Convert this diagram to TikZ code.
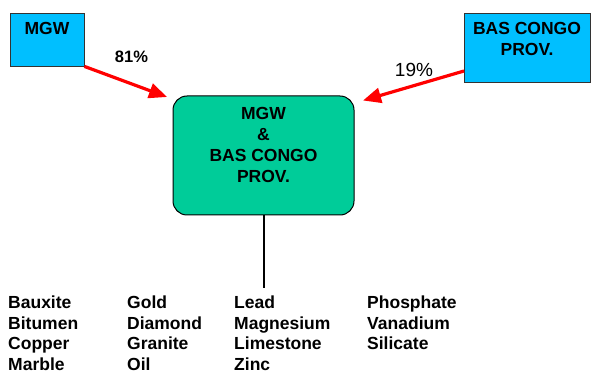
\documentclass[tikz,border=0pt]{standalone}
\usepackage{fontspec}
\setmainfont{Liberation Sans}
\usetikzlibrary{positioning,arrows.meta}
\definecolor{srcblue}{RGB}{0,191,255}
\definecolor{hubgreen}{RGB}{0,204,153}

\begin{document}
\begin{tikzpicture}[x=1pt,y=-1pt,
    source/.style={draw=black!80,fill=srcblue,line width=0.8pt,inner sep=0pt},
    lbl/.style={font=\bfseries\fontsize{17.5}{20.8}\selectfont,align=center,inner sep=0pt},
    mineral/.style={font=\bfseries\fontsize{17.5}{21}\selectfont,anchor=base west,inner sep=0pt},
    flow/.style={draw=red,line width=3.2pt,-{Triangle[length=18pt,width=15pt]}}]
    \useasboundingbox (0,0) rectangle (600,382);
    \node[source,minimum width=74pt,minimum height=53pt] (mgw) at (47,39.5) {};
    \node[lbl,below=9.7pt of mgw.north] (mgwtxt) {MGW};
    \node[source,minimum width=126pt,minimum height=69pt] (bas) at (527,47.5) {};
    \node[lbl,below=9.7pt of bas.north] (bastxt) {BAS CONGO\\PROV.};
    \node[draw=black,fill=hubgreen,line width=1pt,rounded corners=14pt,
          minimum width=181pt,minimum height=119pt,inner sep=0pt] (hub) at (263.5,155.5) {};
    \node[lbl,font=\bfseries\fontsize{17.5}{21}\selectfont,below=11.3pt of hub.north] (hubtxt)
        {MGW\\\&\\BAS CONGO\\PROV.};
    \coordinate (mgwin) at (167,97);
    \coordinate (basout) at (464,71);
    \coordinate (basin) at (363,100.5);
    \coordinate (stem) at (263.5,288);
    \draw[flow] (mgw.south east) -- (mgwin);
    \draw[flow] (basout) -- (basin);
    \node[inner sep=0pt,font=\bfseries\fontsize{16.5}{20}\selectfont] (pmgw) at (131.5,56.7) {81\%};
    \node[inner sep=0pt,font=\fontsize{19}{22}\selectfont] (pbas) at (414,69.5) {19\%};
    \draw[line width=2pt] (hub.south) -- (stem);
    \foreach \word [count=\r] in {Bauxite,Bitumen,Copper,Marble}
        \node[mineral] (ma-\r) at (8,287.5+20.8*\r) {\word};
    \foreach \word [count=\r] in {Gold,Diamond,Granite,Oil}
        \node[mineral] (mb-\r) at (127,287.5+20.8*\r) {\word};
    \foreach \word [count=\r] in {Lead,Magnesium,Limestone,Zinc}
        \node[mineral] (mc-\r) at (234,287.5+20.8*\r) {\word};
    \foreach \word [count=\r] in {Phosphate,Vanadium,Silicate}
        \node[mineral] (md-\r) at (367,287.5+20.8*\r) {\word};
\end{tikzpicture}
\end{document}
